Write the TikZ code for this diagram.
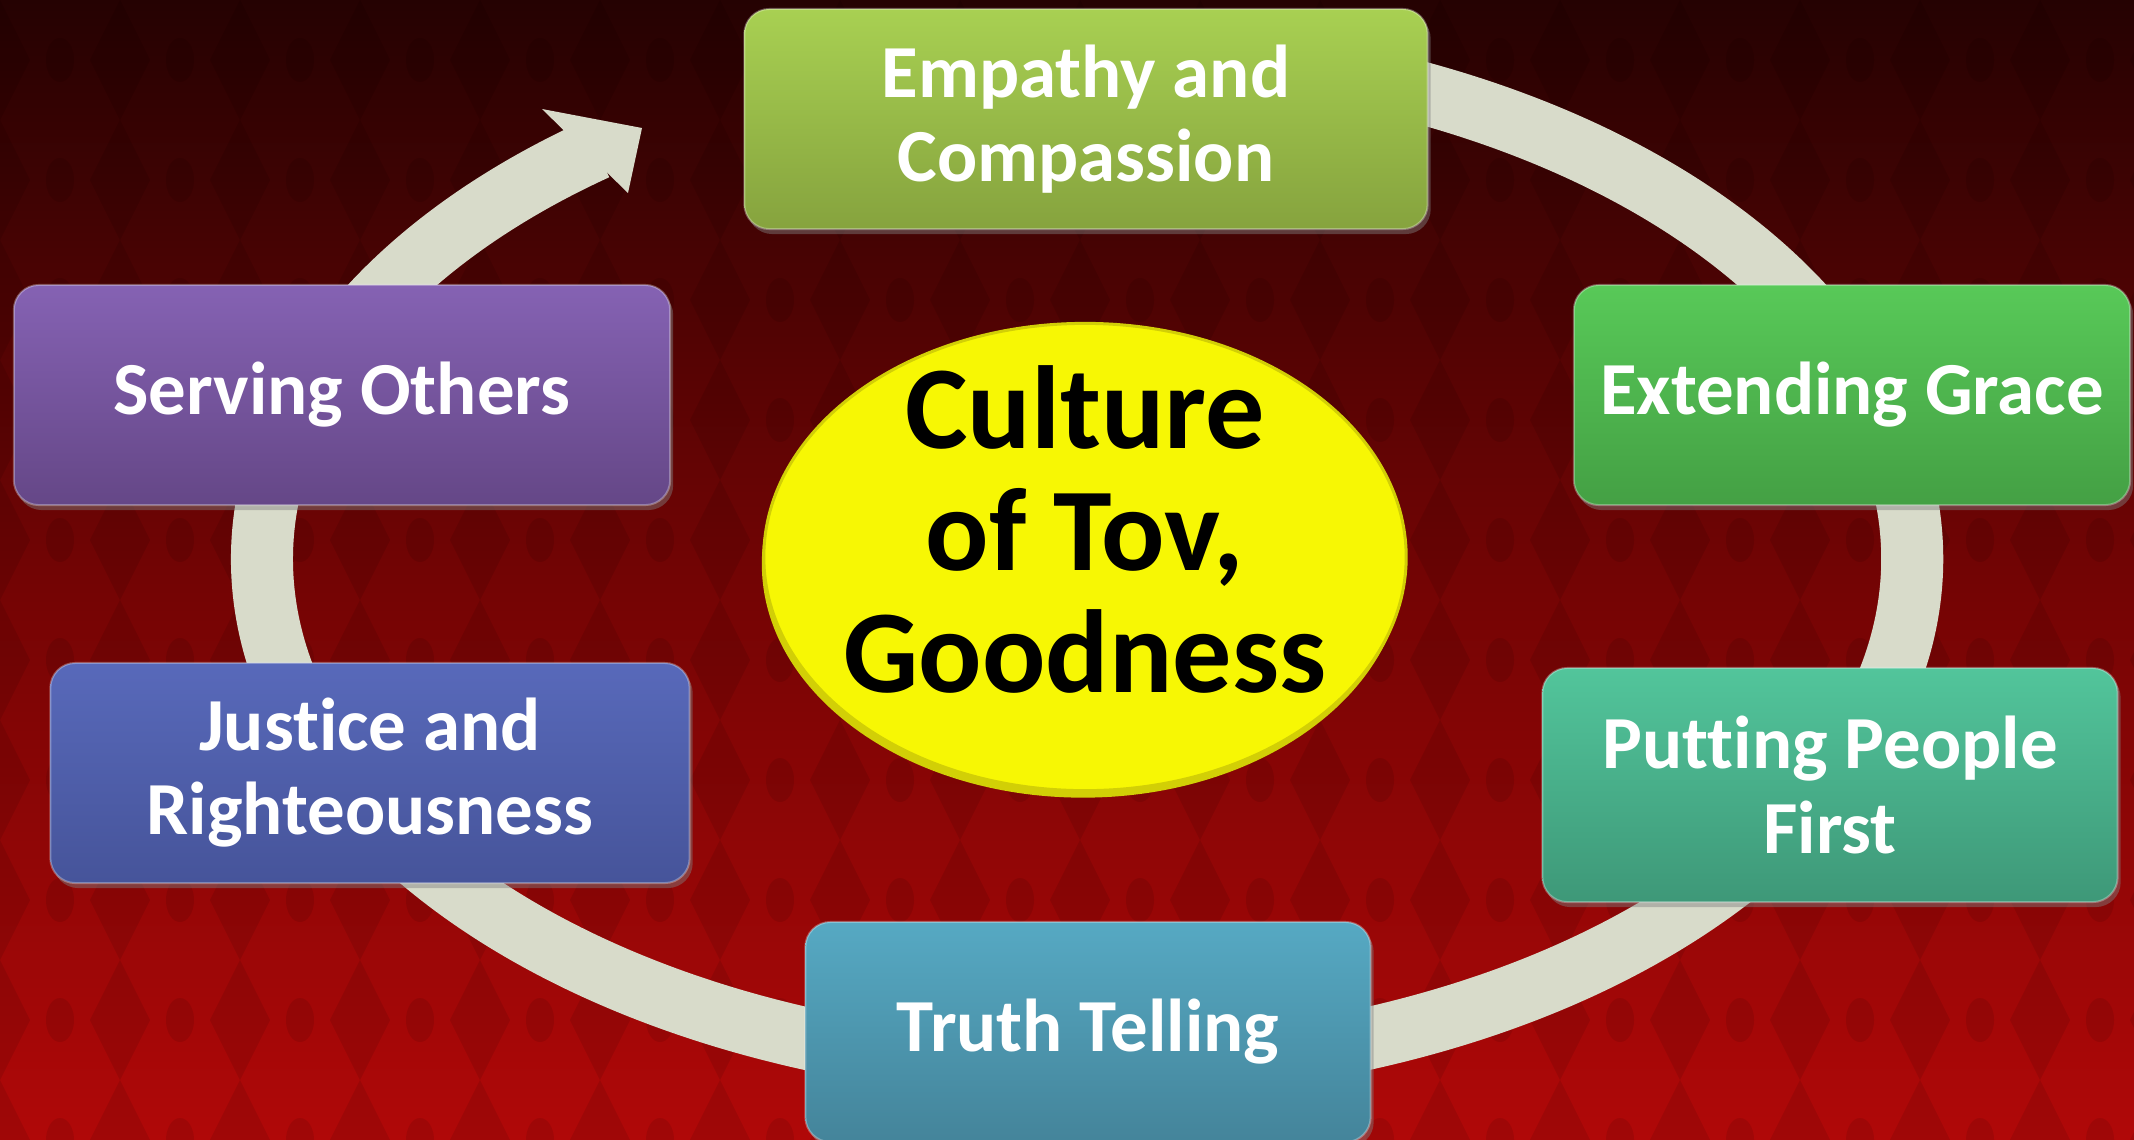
\documentclass[tikz,border=0pt]{standalone}
\usepackage{fontspec}
\setmainfont{Carlito}[Ligatures=NoCommon]
\usetikzlibrary{shapes.geometric,shadows,arrows.meta}
\definecolor{bgtop}{HTML}{250202}
\definecolor{bgmid}{HTML}{720404}
\definecolor{bgbot}{HTML}{B00808}
\definecolor{ringgray}{HTML}{D8DBCA}
\definecolor{tovyellow}{HTML}{F7F704}
\definecolor{tovrim}{HTML}{D2CF06}
\definecolor{empathytop}{HTML}{A8D052}
\definecolor{empathybot}{HTML}{86A33E}
\definecolor{gracetop}{HTML}{58C958}
\definecolor{gracebot}{HTML}{44A044}
\definecolor{peopletop}{HTML}{52C59B}
\definecolor{peoplebot}{HTML}{3E9878}
\definecolor{truthtop}{HTML}{56A9C3}
\definecolor{truthbot}{HTML}{44849A}
\definecolor{justicetop}{HTML}{5869BA}
\definecolor{justicebot}{HTML}{46549A}
\definecolor{servingtop}{HTML}{8562B3}
\definecolor{servingbot}{HTML}{654787}

\begin{document}
\begin{tikzpicture}[x=0.01cm, y=0.01cm]
\tikzstyle{every node}+=[inner sep=0pt]
\tikzstyle{box}=[rectangle, rounded corners=0.25cm, minimum height=2.2cm, align=center, text=white, draw=white, draw opacity=0.3, line width=0.02cm, font=\fontsize{21.3}{23.9}\selectfont\bfseries, drop shadow={shadow xshift=0.03cm, shadow yshift=-0.05cm, opacity=0.45}]
\tikzstyle{damask}=[black, opacity=0.09]
\useasboundingbox (0,0) rectangle (2134,-1139);
\shade [top color=bgtop, bottom color=bgbot, middle color=bgmid] (0,0) rectangle (2134,-1139);
\foreach \i in {0,...,18} {
  \foreach \j in {0,...,10} {
    \fill [damask] (\i*120,-\j*120) -- ++(30,-60) -- ++(-30,-60) -- ++(-30,60) -- cycle;
    \fill [damask] (\i*120+60,-\j*120-60) ellipse (14 and 22);
  }
}
\draw [ringgray, line width=0.62cm] (1087,-559) ++(110:825 and 510) arc (110:-233.5:825 and 510);
\fill [ringgray] (642,-128) -- (542,-109) -- (628,-193) -- cycle;
\node (empathy) [box, minimum width=6.83cm, top color=empathytop, bottom color=empathybot] at (1086,-119) {Empathy and\\Compassion};
\node (grace) [box, minimum width=5.56cm, top color=gracetop, bottom color=gracebot] at (1852,-395) {Extending Grace};
\node (people) [box, minimum width=5.75cm, minimum height=2.34cm, top color=peopletop, bottom color=peoplebot] at (1830,-785) {Putting People\\First};
\node (truth) [box, minimum width=5.65cm, top color=truthtop, bottom color=truthbot] at (1088,-1032) {Truth Telling};
\node (justice) [box, minimum width=6.39cm, top color=justicetop, bottom color=justicebot] at (370,-773) {Justice and\\Righteousness};
\node (serving) [box, minimum width=6.56cm, top color=servingtop, bottom color=servingbot] at (342,-395) {Serving Others};
\node (tov) [ellipse, inner sep=-0.8cm, text depth=0.55cm, minimum width=6.42cm, minimum height=4.67cm, fill=tovyellow, draw=tovrim, line width=0.03cm, align=center, font=\fontsize{33.6}{34.7}\selectfont\bfseries, drop shadow={shadow xshift=-0.02cm, shadow yshift=-0.07cm, fill=tovrim, opacity=1}] at (1085,-557) {Culture\\of Tov,\\Goodness};
\end{tikzpicture}
\end{document}
